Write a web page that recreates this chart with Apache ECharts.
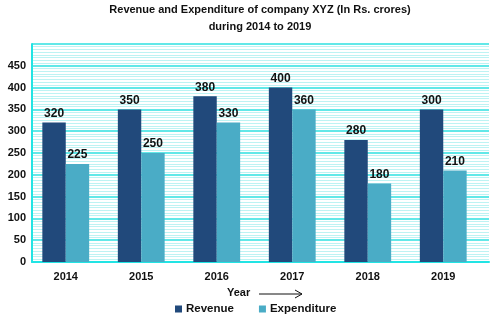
<!DOCTYPE html>
<html><head><meta charset="utf-8">
<script src="https://cdn.jsdelivr.net/npm/echarts@6/dist/echarts.min.js"></script>
<style>html,body{margin:0;padding:0;background:#fff}#c{width:498px;height:324px}</style>
</head><body><div id="c"></div>
<script>
const years = ['2014','2015','2016','2017','2018','2019'];
const revenue = [320, 350, 380, 400, 280, 350];
const expenditure = [225, 250, 320, 350, 180, 210];
const revenueLabels = ['320','350','380','400','280','300'];
const expenditureLabels = ['225','250','330','360','180','210'];
const yTicks = [0,50,100,150,200,250,300,350,400,450];

const font = 'Liberation Sans, Arial, sans-serif';
const chart = echarts.init(document.getElementById('c'));
const lblStyle = {show:true, position:'top', distance:3, color:'#111', fontFamily:font, fontWeight:'bold', fontSize:12};
chart.setOption({
  animation:false,
  title:{text:'Revenue and Expenditure of company XYZ (In Rs. crores)\nduring 2014 to 2019', left:260, textAlign:'center', top:1, padding:0,
    textStyle:{fontFamily:font, fontWeight:'bold', fontSize:11, color:'#111', lineHeight:17}},
  legend:{left:175, top:303, padding:0, itemWidth:7, itemHeight:7, itemGap:25, icon:'rect',
    textStyle:{fontFamily:font, fontWeight:'bold', fontSize:11.5, color:'#111', padding:[3,0,0,-1]},
    data:['Revenue','Expenditure']},
  grid:[
    {left:32, right:9, top:44, bottom:62},
    {left:28, right:17, top:44, bottom:62}
  ],
  xAxis:[
    {gridIndex:0, type:'value', min:0, max:1, axisLabel:{show:false}, axisTick:{show:false}, splitLine:{show:false},
      axisLine:{show:true, lineStyle:{color:'#22e4e4', width:2}}},
    {gridIndex:1, type:'category', data:years, axisLine:{show:false}, axisTick:{show:false},
      axisLabel:{margin:9, color:'#111', fontFamily:font, fontWeight:'bold', fontSize:11}}
  ],
  yAxis:[
    {gridIndex:0, type:'value', min:0, max:500, interval:50,
      axisLine:{show:true, lineStyle:{color:'#22e4e4', width:2}}, axisTick:{show:false},
      axisLabel:{margin:6, color:'#111', fontFamily:font, fontWeight:'bold', fontSize:11,
        formatter:v=> yTicks.includes(v) ? String(v) : ''},
      splitLine:{show:true, lineStyle:{color:'#2ee0e0', width:1.5}},
      minorTick:{show:false, splitNumber:8},
      minorSplitLine:{show:true, lineStyle:{color:'#bdf3f3', width:1}}},
    {gridIndex:1, type:'value', min:0, max:500, interval:50, show:false}
  ],
  series:[
    {name:'Revenue', type:'bar', xAxisIndex:1, yAxisIndex:1, data:revenue, barGap:'0%', barCategoryGap:'38%',
      itemStyle:{color:'#21497b'},
      label:Object.assign({}, lblStyle, {formatter:p=>revenueLabels[p.dataIndex]})},
    {name:'Expenditure', type:'bar', xAxisIndex:1, yAxisIndex:1, data:expenditure,
      itemStyle:{color:'#4aacc6'},
      label:Object.assign({}, lblStyle, {formatter:p=>expenditureLabels[p.dataIndex]})}
  ],
  graphic:[
    {type:'text', left:227, top:287, style:{text:'Year', fontFamily:font, fontWeight:'bold', fontSize:11, fill:'#111'}},
    {type:'line', shape:{x1:259, y1:294, x2:302, y2:294}, style:{stroke:'#111', lineWidth:1}},
    {type:'polyline', shape:{points:[[295,290],[302,294],[295,298]]}, style:{stroke:'#111', lineWidth:1, fill:null}}
  ]
});
</script></body></html>
